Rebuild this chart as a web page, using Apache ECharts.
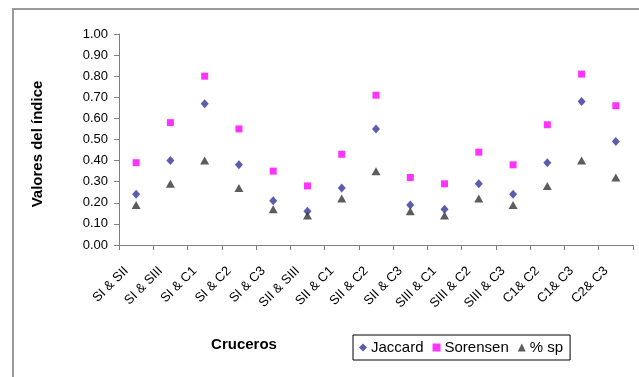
<!DOCTYPE html>
<html>
<head>
<meta charset="utf-8">
<script src="https://cdn.jsdelivr.net/npm/echarts@6/dist/echarts.min.js"></script>
<style>
  html, body { margin: 0; padding: 0; background: #fff; }
  #chart { width: 639px; height: 377px; }
</style>
</head>
<body>
<div id="chart"></div>
<script>
// Pairs of cruises being compared
const categories = ['SI & SII', 'SI & SIII', 'SI & C1', 'SI & C2', 'SI & C3', 'SII & SIII', 'SII & C1', 'SII & C2', 'SII & C3', 'SIII & C1', 'SIII & C2', 'SIII & C3', 'C1& C2', 'C1& C3', 'C2& C3'];

// Similarity indices for each pair
const jaccard  = [0.24, 0.40, 0.67, 0.38, 0.21, 0.16, 0.27, 0.55, 0.19, 0.17, 0.29, 0.24, 0.39, 0.68, 0.49];
const sorensen = [0.39, 0.58, 0.80, 0.55, 0.35, 0.28, 0.43, 0.71, 0.32, 0.29, 0.44, 0.38, 0.57, 0.81, 0.66];
const pctSp    = [0.19, 0.29, 0.40, 0.27, 0.17, 0.14, 0.22, 0.35, 0.16, 0.14, 0.22, 0.19, 0.28, 0.40, 0.32];

const seriesNames = ['Jaccard', 'Sorensen', '% sp'];
const yTicks = { min: 0, max: 1, interval: 0.1 };

const FONT = 'Liberation Sans, Arial, sans-serif';
const chart = echarts.init(document.getElementById('chart'), null, { renderer: 'canvas' });

chart.setOption({
  animation: false,
  backgroundColor: '#ffffff',
  textStyle: { fontFamily: FONT, color: '#000' },
  grid: { left: 119, top: 34, right: 6, bottom: 132, containLabel: false },
  xAxis: {
    type: 'category',
    data: categories,
    boundaryGap: true,
    axisLine: { lineStyle: { color: '#808080', width: 1 } },
    axisTick: { show: true, inside: false, length: 5, alignWithLabel: false, lineStyle: { color: '#808080' } },
    axisLabel: {
      rotate: 45, interval: 0, fontSize: 13, color: '#000', fontFamily: FONT,
      margin: 14, padding: [0, 14, 0, 0]
    },
    splitLine: { show: false }
  },
  yAxis: {
    type: 'value',
    min: yTicks.min,
    max: yTicks.max,
    interval: yTicks.interval,
    axisLine: { show: true, lineStyle: { color: '#808080', width: 1 } },
    axisTick: { show: true, inside: false, length: 5, lineStyle: { color: '#808080' } },
    axisLabel: { fontSize: 13, color: '#000', fontFamily: FONT, margin: 11, formatter: v => v.toFixed(2) },
    splitLine: { show: false }
  },
  legend: {
    left: 353,
    top: 335,
    orient: 'horizontal',
    data: [
      { name: seriesNames[0], icon: 'diamond' },
      { name: seriesNames[1], icon: 'rect' },
      { name: seriesNames[2], icon: 'triangle' }
    ],
    itemWidth: 8,
    itemHeight: 8,
    itemGap: 9,
    padding: [5, 7, 5, 6],
    borderColor: '#000',
    borderWidth: 1,
    borderRadius: 0,
    textStyle: { fontSize: 15, color: '#000', fontFamily: FONT, padding: [0, 0, 0, -1] }
  },
  series: [
    {
      name: seriesNames[0], type: 'scatter', data: jaccard,
      symbol: 'diamond', symbolSize: [8, 9],
      itemStyle: { color: '#333399' }
    },
    {
      name: seriesNames[1], type: 'scatter', data: sorensen,
      symbol: 'rect', symbolSize: 7,
      itemStyle: { color: '#ff00ff' }
    },
    {
      name: seriesNames[2], type: 'scatter', data: pctSp,
      symbol: 'triangle', symbolSize: [9, 8],
      itemStyle: { color: '#333333' }
    }
  ],
  graphic: [
    {
      type: 'rect',
      shape: { x: 13, y: 9, width: 700, height: 500 },
      style: { fill: 'none', stroke: '#9a9a9a', lineWidth: 2 },
      silent: true
    },
    {
      type: 'text',
      x: 38, y: 144,
      rotation: Math.PI / 2,
      style: {
        text: 'Valores del índice',
        font: 'bold 15px ' + FONT,
        fill: '#000',
        align: 'center',
        verticalAlign: 'middle'
      }
    },
    {
      type: 'text',
      x: 244, y: 345,
      style: {
        text: 'Cruceros',
        font: 'bold 15px ' + FONT,
        fill: '#000',
        align: 'center',
        verticalAlign: 'middle'
      }
    }
  ]
});
</script>
</body>
</html>
